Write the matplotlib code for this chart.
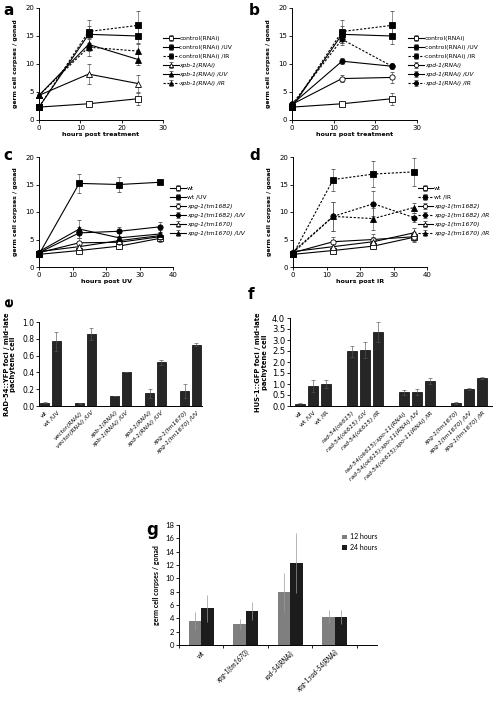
import numpy as np
import matplotlib.pyplot as plt

# ---- data: panels a/b (hours post treatment)
t_ab = [0, 12, 24]
ctrl = [2.3, 2.9, 3.8];        ctrl_err = [0.3, 0.4, 1.1]
ctrl_uv = [2.3, 15.3, 15.0];   ctrl_uv_err = [0.3, 1.5, 1.4]
ctrl_ir = [2.3, 15.8, 16.9];   ctrl_ir_err = [0.3, 2.0, 2.5]
xpb = [4.4, 8.2, 6.5];         xpb_err = [0.3, 1.8, 1.5]
xpb_uv = [4.4, 13.5, 10.8];    xpb_uv_err = [0.3, 1.2, 1.0]
xpb_ir = [4.4, 13.0, 12.3];    xpb_ir_err = [0.3, 1.5, 1.5]
xpd = [2.8, 7.4, 7.6];         xpd_err = [0.3, 0.6, 1.0]
xpd_uv = [2.8, 10.5, 9.6];     xpd_uv_err = [0.3, 0.5, 0.4]
xpd_ir = [2.8, 14.4, 9.6];     xpd_ir_err = [0.3, 1.0, 0.5]

# ---- panels c/d
t_cd = [0, 12, 24, 36]
wt = [2.3, 3.0, 3.8, 5.2];          wt_err = [0.3, 0.3, 0.6, 0.7]
wt_uv = [2.3, 15.2, 15.0, 15.4];    wt_uv_err = [0.3, 1.7, 1.4, 0.3]
tm1682_c = [2.6, 4.4, 4.5, 5.5];    tm1682_c_err = [0.3, 0.9, 0.8, 0.6]
tm1682_uv = [2.6, 6.2, 6.5, 7.3];   tm1682_uv_err = [0.3, 1.0, 0.8, 0.9]
tm1670_c = [2.8, 3.7, 4.8, 5.7];    tm1670_c_err = [0.3, 0.8, 0.7, 0.6]
tm1670_uv = [2.8, 6.9, 5.3, 6.0];   tm1670_uv_err = [0.3, 1.7, 0.9, 0.8]
wt_d = [2.3, 3.0, 3.8, 5.4];        wt_d_err = [0.3, 0.3, 0.6, 0.7]
wt_ir = [2.3, 15.9, 16.9, 17.3];    wt_ir_err = [0.3, 2.0, 2.4, 2.6]
tm1682_d = [2.6, 4.6, 5.0, 5.5];    tm1682_d_err = [0.3, 0.8, 1.0, 0.9]
tm1682_ir = [2.6, 9.2, 11.5, 9.0];  tm1682_ir_err = [0.3, 2.6, 2.3, 0.8]
tm1670_d = [2.8, 3.7, 4.6, 6.2];    tm1670_d_err = [0.3, 0.8, 0.9, 0.9]
tm1670_ir = [2.8, 9.2, 8.8, 10.8];  tm1670_ir_err = [0.3, 2.6, 2.0, 0.9]

# ---- panel e
e_labels = ["wt", "wt /UV", "vector(RNAi)", "vector(RNAi) /UV", "xpb-1(RNAi)",
            "xpb-1(RNAi) /UV", "xpd-1(RNAi)", "xpd-1(RNAi) /UV",
            "xpg-1(tm1670)", "xpg-1(tm1670) /UV"]
e_vals = [0.04, 0.77, 0.03, 0.86, 0.12, 0.41, 0.15, 0.52, 0.18, 0.73]
e_err = [0.01, 0.11, 0.01, 0.07, 0.0, 0.0, 0.05, 0.03, 0.08, 0.02]

# ---- panel f
f_labels = ["wt", "wt /UV", "wt /IR", "rad-54(ok615)", "rad-54(ok615) /UV",
            "rad-54(ok615) /IR", "rad-54(ok615);spo-11(RNAi)",
            "rad-54(ok615);spo-11(RNAi) /UV", "rad-54(ok615);spo-11(RNAi) /IR",
            "xpg-1(tm1670)", "xpg-1(tm1670) /UV", "xpg-1(tm1670) /IR"]
f_vals = [0.07, 0.90, 1.00, 2.50, 2.55, 3.38, 0.63, 0.63, 1.13, 0.13, 0.77, 1.27]
f_err = [0.08, 0.28, 0.20, 0.25, 0.38, 0.45, 0.12, 0.13, 0.13, 0.03, 0.06, 0.03]

# ---- panel g
g_labels = ["wt", "xpg-1(tm1670)", "rad-54(RNAi)", "xpg-1;rad-54(RNAi)"]
g_12h = [3.6, 3.1, 7.9, 4.2];   g_12h_err = [1.3, 0.8, 2.9, 1.1]
g_24h = [5.5, 5.1, 12.3, 4.2];  g_24h_err = [2.0, 1.3, 4.5, 1.1]

W, H = 495, 708
fig = plt.figure(figsize=(W / 100, H / 100), dpi=100)


def ax_px(l, t, r, b):
    return fig.add_axes([l / W, 1 - b / H, (r - l) / W, (b - t) / H])


def style(ax, fs=5):
    for s in ["top", "right"]:
        ax.spines[s].set_visible(False)
    ax.tick_params(labelsize=fs, length=2, width=0.6, pad=1.5)
    for s in ["left", "bottom"]:
        ax.spines[s].set_linewidth(0.7)


DASH = (0, (2, 1.5))


def series(ax, x, y, err, marker, filled, dashed, label):
    ax.errorbar(x, y, yerr=err, marker=marker, ms=3.8, color="black",
                mfc="black" if filled else "white", mec="black", mew=0.6,
                lw=0.8, ls=DASH if dashed else "-", elinewidth=0.45,
                capsize=1.3, capthick=0.45, ecolor="#555555", label=label,
                clip_on=False)


def line_legend(ax, x, y):
    leg = ax.legend(loc="upper left", bbox_to_anchor=(x, y), frameon=False,
                    fontsize=4.3, handlelength=2.6, handletextpad=0.15,
                    labelspacing=0.65, borderaxespad=0, borderpad=0,
                    markerscale=0.8)
    for t in leg.get_texts():
        if t.get_text().startswith("xp"):
            t.set_style("italic")


def line_axes(ax, xmax, xlab):
    style(ax)
    ax.set_xlim(0, xmax)
    ax.set_ylim(0, 20)
    ax.set_xticks(np.arange(0, xmax + 1, 10))
    ax.set_yticks([0, 5, 10, 15, 20])
    ax.set_xlabel(xlab, fontsize=4.6, fontweight="bold", labelpad=1)
    ax.set_ylabel("germ cell corpses / gonad", fontsize=4.4, fontweight="bold",
                  labelpad=5)


# ---- a
ax = ax_px(39, 8, 163, 120)
series(ax, t_ab, ctrl, ctrl_err, "s", False, False, "control(RNAi)")
series(ax, t_ab, ctrl_uv, ctrl_uv_err, "s", True, False, "control(RNAi) /UV")
series(ax, t_ab, ctrl_ir, ctrl_ir_err, "s", True, True, "control(RNAi) /IR")
series(ax, t_ab, xpb, xpb_err, "^", False, False, "xpb-1(RNAi)")
series(ax, t_ab, xpb_uv, xpb_uv_err, "^", True, False, "xpb-1(RNAi) /UV")
series(ax, t_ab, xpb_ir, xpb_ir_err, "^", True, True, "xpb-1(RNAi) /IR")
line_axes(ax, 30, "hours post treatment")
line_legend(ax, 1.0, 0.75)
fig.text(3 / W, 1 - 15 / H, "a", fontsize=11, fontweight="bold")

# ---- b
ax = ax_px(292, 8, 417, 120)
series(ax, t_ab, ctrl, ctrl_err, "s", False, False, "control(RNAi)")
series(ax, t_ab, ctrl_uv, ctrl_uv_err, "s", True, False, "control(RNAi) /UV")
series(ax, t_ab, ctrl_ir, ctrl_ir_err, "s", True, True, "control(RNAi) /IR")
series(ax, t_ab, xpd, xpd_err, "o", False, False, "xpd-1(RNAi)")
series(ax, t_ab, xpd_uv, xpd_uv_err, "o", True, False, "xpd-1(RNAi) /UV")
series(ax, t_ab, xpd_ir, xpd_ir_err, "o", True, True, "xpd-1(RNAi) /IR")
line_axes(ax, 30, "hours post treatment")
line_legend(ax, 0.93, 0.75)
fig.text(249 / W, 1 - 15 / H, "b", fontsize=11, fontweight="bold")

# ---- c
ax = ax_px(39, 157, 173, 267)
series(ax, t_cd, wt, wt_err, "s", False, False, "wt")
series(ax, t_cd, wt_uv, wt_uv_err, "s", True, False, "wt /UV")
series(ax, t_cd, tm1682_c, tm1682_c_err, "o", False, False, "xpg-1(tm1682)")
series(ax, t_cd, tm1682_uv, tm1682_uv_err, "o", True, False, "xpg-1(tm1682) /UV")
series(ax, t_cd, tm1670_c, tm1670_c_err, "^", False, False, "xpg-1(tm1670)")
series(ax, t_cd, tm1670_uv, tm1670_uv_err, "^", True, False, "xpg-1(tm1670) /UV")
line_axes(ax, 40, "hours post UV")
line_legend(ax, 0.98, 0.74)
fig.text(3 / W, 1 - 160 / H, "c", fontsize=11, fontweight="bold")

# ---- d
ax = ax_px(293, 157, 427, 267)
series(ax, t_cd, wt_d, wt_d_err, "s", False, False, "wt")
series(ax, t_cd, wt_ir, wt_ir_err, "s", True, True, "wt /IR")
series(ax, t_cd, tm1682_d, tm1682_d_err, "o", False, False, "xpg-1(tm1682)")
series(ax, t_cd, tm1682_ir, tm1682_ir_err, "o", True, True, "xpg-1(tm1682) /IR")
series(ax, t_cd, tm1670_d, tm1670_d_err, "^", False, False, "xpg-1(tm1670)")
series(ax, t_cd, tm1670_ir, tm1670_ir_err, "^", True, True, "xpg-1(tm1670) /IR")
line_axes(ax, 40, "hours post IR")
line_legend(ax, 0.93, 0.74)
fig.text(249 / W, 1 - 160 / H, "d", fontsize=11, fontweight="bold")


def bar_labels(ax, pos, labels, fs, family=None):
    ax.set_xticks(pos)
    ax.set_xticklabels(labels, rotation=45, ha="right", rotation_mode="anchor",
                       fontsize=fs)
    for t in ax.get_xticklabels():
        if family:
            t.set_family(family)
        if t.get_text() != "wt" and not t.get_text().startswith("wt "):
            t.set_style("italic")
    ax.tick_params(axis="x", length=0, pad=3)


# ---- e
ax = ax_px(39, 322, 202, 406)
style(ax, 5.5)
e_pos = [0, 1, 3, 4, 6, 7, 9, 10, 12, 13]
ax.bar(e_pos, e_vals, width=0.75, color="#262626", edgecolor="black", lw=0.5,
       yerr=e_err, error_kw=dict(elinewidth=0.45, capsize=1.3, capthick=0.45,
                                 ecolor="#555555"))
ax.set_xlim(-0.5, 13.5)
ax.set_ylim(0, 1.0)
ax.set_yticks(np.arange(0, 1.01, 0.2))
ax.set_yticklabels(["%.1f" % v for v in np.arange(0, 1.01, 0.2)])
bar_labels(ax, e_pos, e_labels, 4.3)
ax.set_ylabel("RAD-54::YFP foci / mid-late\npachytene cell", fontsize=4.9,
              fontweight="bold", labelpad=4, linespacing=1.1)
fig.text(2 / W, 1 - 304 / H, "e", fontsize=10, fontweight="bold", rotation=90)

# ---- f
ax = ax_px(290, 318, 492, 406)
style(ax, 6)
f_pos = [0, 1, 2, 4, 5, 6, 8, 9, 10, 12, 13, 14]
ax.bar(f_pos, f_vals, width=0.75, color="#262626", edgecolor="black", lw=0.5,
       yerr=f_err, error_kw=dict(elinewidth=0.45, capsize=1.3, capthick=0.45,
                                 ecolor="#555555"))
ax.set_xlim(-0.75, 14.75)
ax.set_ylim(0, 4.0)
ax.set_yticks(np.arange(0, 4.01, 0.5))
ax.set_yticklabels(["%.1f" % v for v in np.arange(0, 4.01, 0.5)])
bar_labels(ax, f_pos, f_labels, 4.3)
ax.set_ylabel("HUS-1::GFP foci / mid-late\npachytene cell", fontsize=4.9,
              fontweight="bold", labelpad=3, linespacing=1.1)
fig.text(248 / W, 1 - 299 / H, "f", fontsize=11, fontweight="bold")

# ---- g
ax = ax_px(179, 525, 377, 645)
style(ax, 5.5)
gx = np.arange(len(g_labels))
ekw = dict(elinewidth=0.5, capsize=0, ecolor="#999999")
ax.bar(gx - 0.14, g_12h, width=0.28, color="#7f7f7f", yerr=g_12h_err,
       error_kw=ekw, label="12 hours")
ax.bar(gx + 0.14, g_24h, width=0.28, color="#1c1c1c", yerr=g_24h_err,
       error_kw=ekw, label="24 hours")
ax.set_xlim(-0.5, 3.95)
ax.set_ylim(0, 18)
ax.set_yticks(np.arange(0, 19, 2))
ax.set_yticklabels([str(v) for v in range(0, 19, 2)], family="Lato", fontsize=5.5)
bar_labels(ax, gx, g_labels, 4.9, family="Lato")
ax.set_xticks([-0.5, 0.5, 1.5, 2.5, 3.5], minor=True)
ax.tick_params(axis="x", which="minor", length=2, width=0.6)
ax.set_ylabel("germ cell corpses / gonad", fontsize=5, fontweight="bold",
              labelpad=4, family="Lato")
ax.legend(loc="upper right", bbox_to_anchor=(1.0, 0.93), frameon=False,
          prop=dict(family="Lato", size=5), handlelength=0.7, handleheight=0.7,
          handletextpad=0.4, labelspacing=0.5, borderpad=0, borderaxespad=0)
fig.text(146 / W, 1 - 535 / H, "g", fontsize=12, fontweight="bold")

fig.savefig("out.png", dpi=100)
